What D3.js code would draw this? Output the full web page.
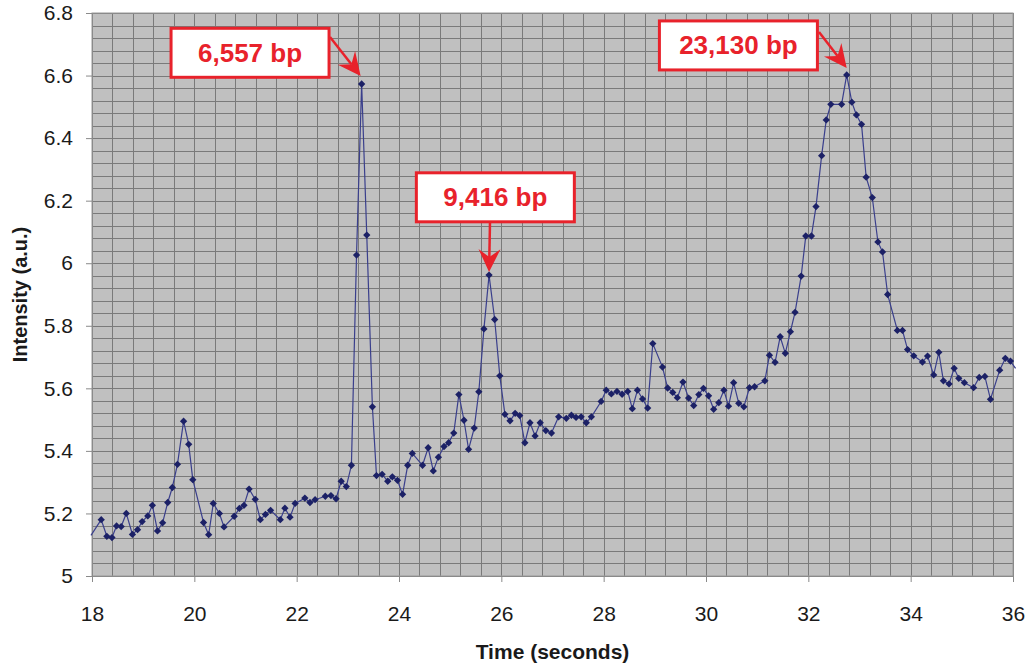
<!DOCTYPE html>
<html>
<head>
<meta charset="utf-8">
<script src="https://cdn.jsdelivr.net/npm/d3@7"></script>
<style>
  body { margin: 0; background: #ffffff; }
  svg text { font-family: "Liberation Sans", Arial, sans-serif; }
</style>
</head>
<body>
<div id="svganchor"></div>
<script>
/*
------------------------------
DATA: time (s) and intensity (a.u.)
------------------------------
*/
let times = [
  17.98, 18.18, 18.29, 18.39, 18.48, 18.57, 18.67, 18.79, 18.89, 18.98,
  19.09, 19.18, 19.28, 19.38, 19.48, 19.57, 19.67, 19.79, 19.89, 19.97,
  20.18, 20.28, 20.37, 20.49, 20.58, 20.78, 20.88, 20.97, 21.07, 21.19,
  21.29, 21.39, 21.49, 21.68, 21.77, 21.87, 21.97, 22.16, 22.26, 22.36,
  22.56, 22.67, 22.77, 22.87, 22.97, 23.07, 23.17, 23.27, 23.37, 23.48,
  23.56, 23.67, 23.78, 23.87, 23.97, 24.07, 24.17, 24.26, 24.46, 24.57,
  24.67, 24.77, 24.88, 24.97, 25.07, 25.17, 25.27, 25.36, 25.47, 25.56,
  25.66, 25.76, 25.87, 25.97, 26.07, 26.17, 26.27, 26.36, 26.46, 26.56,
  26.66, 26.76, 26.87, 26.98, 27.12, 27.27, 27.37, 27.46, 27.56, 27.66,
  27.76, 27.95, 28.05, 28.15, 28.26, 28.36, 28.47, 28.56, 28.66, 28.76,
  28.86, 28.96, 29.15, 29.25, 29.35, 29.44, 29.55, 29.66, 29.76, 29.86,
  29.95, 30.05, 30.15, 30.25, 30.35, 30.44, 30.54, 30.64, 30.74, 30.85,
  30.95, 31.15, 31.24, 31.35, 31.45, 31.55, 31.65, 31.74, 31.86, 31.95,
  32.06, 32.15, 32.26, 32.35, 32.44, 32.65, 32.75, 32.85, 32.94, 33.04,
  33.13, 33.25, 33.36, 33.45, 33.55, 33.74, 33.84, 33.94, 34.06, 34.23,
  34.33, 34.45, 34.55, 34.64, 34.75, 34.85, 34.94, 35.05, 35.23, 35.34,
  35.45, 35.56, 35.74, 35.85, 35.95, 36.05
];

let intensity = [
  5.130, 5.180, 5.127, 5.123, 5.160, 5.158, 5.200, 5.133, 5.148, 5.174,
  5.192, 5.226, 5.144, 5.170, 5.235, 5.283, 5.357, 5.495, 5.421, 5.308,
  5.171, 5.132, 5.232, 5.200, 5.157, 5.191, 5.216, 5.226, 5.278, 5.245,
  5.180, 5.197, 5.210, 5.180, 5.217, 5.188, 5.232, 5.249, 5.235, 5.244,
  5.255, 5.257, 5.247, 5.303, 5.286, 5.354, 6.026, 6.573, 6.090, 5.541,
  5.321, 5.325, 5.303, 5.317, 5.306, 5.261, 5.354, 5.392, 5.354, 5.410,
  5.336, 5.380, 5.414, 5.426, 5.457, 5.580, 5.498, 5.405, 5.473, 5.589,
  5.790, 5.962, 5.820, 5.640, 5.517, 5.496, 5.520, 5.513, 5.426, 5.490,
  5.448, 5.490, 5.465, 5.457, 5.509, 5.504, 5.514, 5.507, 5.509, 5.490,
  5.509, 5.558, 5.594, 5.582, 5.590, 5.581, 5.590, 5.535, 5.594, 5.566,
  5.537, 5.743, 5.668, 5.601, 5.587, 5.570, 5.620, 5.569, 5.545, 5.580,
  5.600, 5.576, 5.533, 5.554, 5.594, 5.543, 5.618, 5.552, 5.541, 5.602,
  5.605, 5.624, 5.706, 5.683, 5.765, 5.712, 5.781, 5.843, 5.959, 6.087,
  6.087, 6.181, 6.344, 6.458, 6.508, 6.508, 6.602, 6.515, 6.474, 6.444,
  6.275, 6.210, 6.068, 6.036, 5.900, 5.785, 5.785, 5.724, 5.704, 5.684,
  5.703, 5.643, 5.715, 5.624, 5.614, 5.664, 5.632, 5.618, 5.602, 5.635,
  5.638, 5.565, 5.658, 5.696, 5.687, 5.664
];

let xTicks = [18, 20, 22, 24, 26, 28, 30, 32, 34, 36];
let yTicks = [5, 5.2, 5.4, 5.6, 5.8, 6, 6.2, 6.4, 6.6, 6.8];

// peak callouts
let peakLabels = ["6,557 bp", "9,416 bp", "23,130 bp"];
let peakTimes = [23.27, 25.76, 32.75];
let peakValues = [6.573, 5.962, 6.602];

/*
------------------------------
METHOD: canvas size
------------------------------
*/
let width = 1034;
let height = 669;
let margin = ({top: 13, right: 21, bottom: 93, left: 92});

let svg = d3.select("#svganchor")
    .append("svg")
    .attr("width", width)
    .attr("height", height);

let xScale = d3.scaleLinear()
    .domain([18, 36])
    .range([margin.left, width - margin.right]);

let yScale = d3.scaleLinear()
    .domain([5, 6.8])
    .range([height - margin.bottom, margin.top]);

/*
------------------------------
METHOD: plot background and grid
------------------------------
*/
svg.append("rect")
    .attr("x", xScale(18))
    .attr("y", yScale(6.8))
    .attr("width", xScale(36) - xScale(18))
    .attr("height", yScale(5) - yScale(6.8))
    .attr("fill", "#c0c0c0");

// minor grid: 0.4 s across, 0.04 up
let gridX = d3.range(0, 46).map(i => 18 + i * 0.4);
let gridY = d3.range(0, 46).map(i => 5 + i * 0.04);

svg.append("g").selectAll("line")
    .data(gridX)
    .enter().append("line")
    .attr("x1", d => Math.round(xScale(d)) + 0.5)
    .attr("x2", d => Math.round(xScale(d)) + 0.5)
    .attr("y1", yScale(6.8))
    .attr("y2", yScale(5))
    .attr("stroke", "#7a7a7a")
    .attr("stroke-width", 1);

svg.append("g").selectAll("line")
    .data(gridY)
    .enter().append("line")
    .attr("x1", xScale(18))
    .attr("x2", xScale(36))
    .attr("y1", d => Math.round(yScale(d)) + 0.5)
    .attr("y2", d => Math.round(yScale(d)) + 0.5)
    .attr("stroke", "#7a7a7a")
    .attr("stroke-width", 1);

svg.append("rect")
    .attr("x", xScale(18))
    .attr("y", yScale(6.8))
    .attr("width", xScale(36) - xScale(18))
    .attr("height", yScale(5) - yScale(6.8))
    .attr("fill", "none")
    .attr("stroke", "#9a9a9a");

/*
------------------------------
METHOD: axes
------------------------------
*/
let xAxis = d3.axisBottom(xScale)
    .tickValues(xTicks)
    .tickFormat(d3.format("d"))
    .tickSize(6)
    .tickPadding(24);

let yAxis = d3.axisLeft(yScale)
    .tickValues(yTicks)
    .tickFormat(d => String(+d.toFixed(1)))
    .tickSize(6)
    .tickPadding(13);

let gx = svg.append("g")
    .attr("transform", "translate(0," + yScale(5) + ")")
    .call(xAxis);

let gy = svg.append("g")
    .attr("transform", "translate(" + xScale(18) + ",0)")
    .call(yAxis);

[gx, gy].forEach(g => {
    g.select(".domain").attr("stroke", "#8a8a8a");
    g.selectAll(".tick line").attr("stroke", "#8a8a8a");
    g.selectAll(".tick text")
        .attr("fill", "#1a1a1a")
        .style("font-size", "21px");
});

svg.append("text")
    .attr("x", (xScale(18) + xScale(36)) / 2)
    .attr("y", 659)
    .attr("text-anchor", "middle")
    .style("font-size", "21px")
    .style("font-weight", "bold")
    .attr("fill", "#1a1a1a")
    .text("Time (seconds)");

svg.append("text")
    .attr("transform", "translate(27," + (yScale(5) + yScale(6.8)) / 2 + ") rotate(-90)")
    .attr("text-anchor", "middle")
    .style("font-size", "20px")
    .style("font-weight", "bold")
    .attr("fill", "#1a1a1a")
    .text("Intensity (a.u.)");

/*
------------------------------
METHOD: trace line and diamond markers
------------------------------
*/
let dataSet = times.map((t, i) => ({t: t, v: intensity[i]}));

let line = d3.line()
    .x(d => xScale(d.t))
    .y(d => yScale(d.v));

svg.append("path")
    .datum(dataSet)
    .attr("d", line)
    .attr("fill", "none")
    .attr("stroke", "#3a3f8c")
    .attr("stroke-width", 1.2);

let diamond = d3.symbol().type(d3.symbolDiamond2).size(34);

svg.append("g").selectAll("path")
    .data(dataSet.filter(d => d.t >= 18 && d.t <= 36))
    .enter().append("path")
    .attr("d", diamond)
    .attr("transform", d => "translate(" + xScale(d.t) + "," + yScale(d.v) + ")")
    .attr("fill", "#1c2166");

/*
------------------------------
METHOD: red callouts
------------------------------
*/
// box geometry relative to its peak: dx/dy of the box's left-top, box size, arrow start
let boxes = [
  {dx: -190.6, dy: -55.7, w: 158, h: 49, sx: 330, sy: 37, tipDy: -8},
  {dx: -72.7, dy: -102.3, w: 158, h: 49, sx: 490, sy: 222, tipDy: -3},
  {dx: -187.3, dy: -54, w: 158, h: 49, sx: 819, sy: 32, tipDy: -7}
];

let red = "#e8222b";

peakLabels.forEach((label, i) => {
    let px = xScale(peakTimes[i]);
    let py = yScale(peakValues[i]);
    let b = boxes[i];
    let bx = px + b.dx;
    let by = py + b.dy;

    let tx = px - (i === 0 ? 1 : 0);
    let ty = py + b.tipDy;
    let ang = Math.atan2(ty - b.sy, tx - b.sx);
    let headLen = 23, headHalf = 11, notch = 15;
    let ux = Math.cos(ang), uy = Math.sin(ang);
    let nx = -uy, ny = ux;
    let bxh = tx - ux * headLen, byh = ty - uy * headLen;

    svg.append("line")
        .attr("x1", b.sx).attr("y1", b.sy)
        .attr("x2", tx - ux * notch).attr("y2", ty - uy * notch)
        .attr("stroke", red)
        .attr("stroke-width", 2.5);

    svg.append("path")
        .attr("d", "M" + tx + "," + ty +
            "L" + (bxh + nx * headHalf) + "," + (byh + ny * headHalf) +
            "L" + (tx - ux * notch) + "," + (ty - uy * notch) +
            "L" + (bxh - nx * headHalf) + "," + (byh - ny * headHalf) + "Z")
        .attr("fill", red);

    svg.append("rect")
        .attr("x", bx)
        .attr("y", by)
        .attr("width", b.w)
        .attr("height", b.h)
        .attr("fill", "#ffffff")
        .attr("stroke", red)
        .attr("stroke-width", 3);

    svg.append("text")
        .attr("x", bx + b.w / 2)
        .attr("y", by + b.h / 2 + 9)
        .attr("text-anchor", "middle")
        .style("font-size", "26px")
        .style("font-weight", "bold")
        .attr("fill", red)
        .text(label);
});
</script>
</body>
</html>
